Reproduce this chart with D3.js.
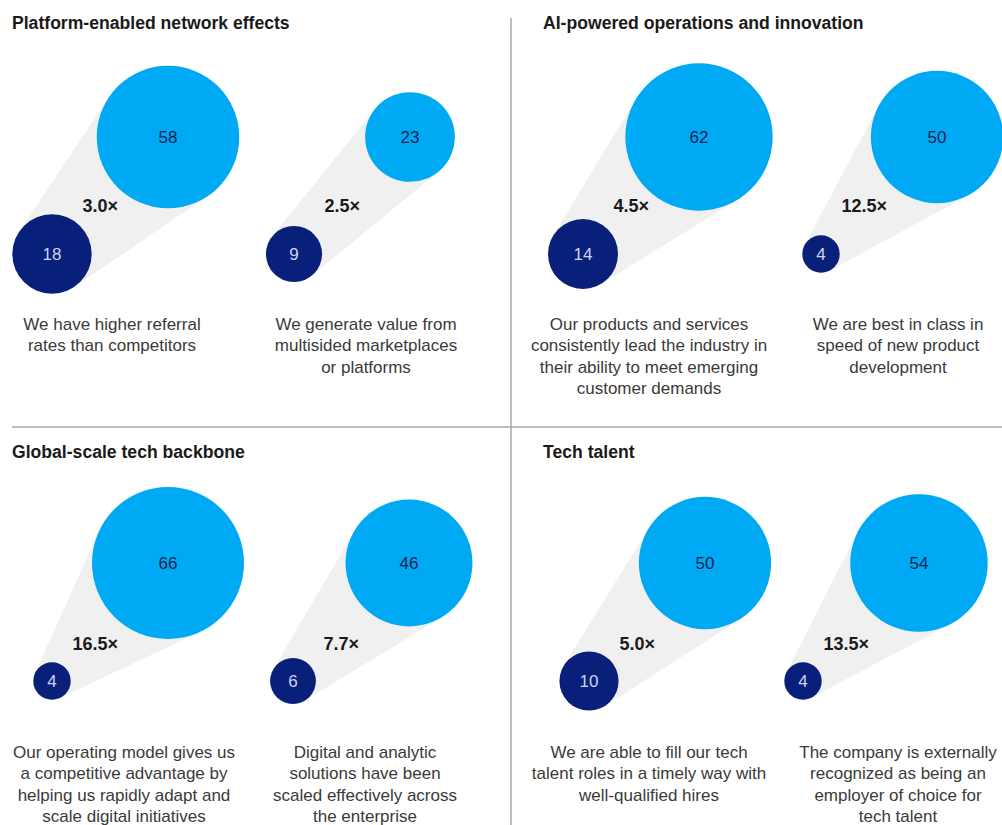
<!DOCTYPE html>
<html>
<head>
<meta charset="utf-8">
<script src="https://cdn.jsdelivr.net/npm/d3@7"></script>
<style>
  body { margin: 0; background: #fff; }
  svg { display: block; font-family: "Liberation Sans", Arial, sans-serif; }
</style>
</head>
<body>
<svg id="chart"></svg>
<script>
// panel titles, in reading order
const panelTitles = [
  'Platform-enabled network effects',
  'AI-powered operations and innovation',
  'Global-scale tech backbone',
  'Tech talent'
]

// two statements per panel
const statements = [
  [['We have higher referral', 'rates than competitors'],
   ['We generate value from', 'multisided marketplaces', 'or platforms']],
  [['Our products and services', 'consistently lead the industry in', 'their ability to meet emerging', 'customer demands'],
   ['We are best in class in', 'speed of new product', 'development']],
  [['Our operating model gives us', 'a competitive advantage by', 'helping us rapidly adapt and', 'scale digital initiatives'],
   ['Digital and analytic', 'solutions have been', 'scaled effectively across', 'the enterprise']],
  [['We are able to fill our tech', 'talent roles in a timely way with', 'well-qualified hires'],
   ['The company is externally', 'recognized as being an', 'employer of choice for', 'tech talent']]
]

// big (light blue) and small (dark blue) values
const leaderValues = [[58, 23], [62, 50], [66, 46], [50, 54]]
const othersValues = [[18, 9], [14, 4], [4, 6], [10, 4]]
const multiplierLabels = [['3.0×', '2.5×'], ['4.5×', '12.5×'], ['16.5×', '7.7×'], ['5.0×', '13.5×']]

const width = 1002
const height = 825

// layout of each panel
const panels = [
  { titleX: 12,  titleY: 29,  circleX: [52, 294],  textX: [112, 366], row: 0 },
  { titleX: 543, titleY: 29,  circleX: [583, 821], textX: [649, 898], row: 0 },
  { titleX: 12,  titleY: 458, circleX: [52, 293],  textX: [124, 365], row: 1 },
  { titleX: 543, titleY: 458, circleX: [589, 803], textX: [649, 898], row: 1 }
]
const rows = [
  { bigY: 137, smallY: 254, labelY: 212, textY: 330 },
  { bigY: 563, smallY: 681, labelY: 650, textY: 758 }
]
const bigDx = 116
const lineH = 21.3

const blueLight = '#00a9f4'
const blueDark = '#08207a'

const r = d3.scaleSqrt().domain([0, 66]).range([0, 76])

const svg = d3.select('#chart')
  .attr('width', width)
  .attr('height', height)

// dividers
svg.append('line')
  .attr('x1', 511).attr('x2', 511)
  .attr('y1', 18).attr('y2', height)
  .attr('stroke', '#a8a8a8').attr('stroke-width', 1.5)
svg.append('line')
  .attr('x1', 12).attr('x2', width)
  .attr('y1', 427).attr('y2', 427)
  .attr('stroke', '#a8a8a8').attr('stroke-width', 1.5)

// outer tangent hull of two circles
function hull(x1, y1, r1, x2, y2, r2) {
  let dx = x2 - x1, dy = y2 - y1
  let d = Math.sqrt(dx * dx + dy * dy)
  let th = Math.atan2(dy, dx)
  let a = Math.acos((r1 - r2) / d)
  let pts = [
    [x1 + r1 * Math.cos(th + a), y1 + r1 * Math.sin(th + a)],
    [x2 + r2 * Math.cos(th + a), y2 + r2 * Math.sin(th + a)],
    [x2 + r2 * Math.cos(th - a), y2 + r2 * Math.sin(th - a)],
    [x1 + r1 * Math.cos(th - a), y1 + r1 * Math.sin(th - a)]
  ]
  return d3.line()(pts) + 'Z'
}

panels.forEach((p, pi) => {
  let row = rows[p.row]
  let g = svg.append('g')

  g.append('text')
    .attr('x', p.titleX)
    .attr('y', p.titleY)
    .attr('font-size', 17.6)
    .attr('font-weight', 'bold')
    .attr('fill', '#1a1a1a')
    .text(panelTitles[pi])

  let xs = d3.scalePoint().domain([0, 1]).range(p.circleX)
  let xt = d3.scalePoint().domain([0, 1]).range(p.textX)

  ;[0, 1].forEach(ci => {
    let sx = xs(ci), sy = row.smallY
    let bx = sx + bigDx, by = row.bigY
    let rs = r(othersValues[pi][ci])
    let rb = r(leaderValues[pi][ci])

    g.append('path')
      .attr('d', hull(sx, sy, rs, bx, by, rb))
      .attr('fill', '#f0f0f0')

    g.append('circle')
      .attr('cx', bx).attr('cy', by).attr('r', rb)
      .attr('fill', blueLight)
    g.append('text')
      .attr('x', bx).attr('y', by + 6)
      .attr('text-anchor', 'middle')
      .attr('font-size', 17)
      .attr('fill', '#0b2350')
      .text(leaderValues[pi][ci])

    g.append('circle')
      .attr('cx', sx).attr('cy', sy).attr('r', rs)
      .attr('fill', blueDark)
    g.append('text')
      .attr('x', sx).attr('y', sy + 6)
      .attr('text-anchor', 'middle')
      .attr('font-size', 17)
      .attr('fill', '#cdd4f2')
      .text(othersValues[pi][ci])

    g.append('text')
      .attr('x', sx + 66).attr('y', row.labelY)
      .attr('text-anchor', 'end')
      .attr('font-size', 18)
      .attr('font-weight', 'bold')
      .attr('fill', '#1a1a1a')
      .text(multiplierLabels[pi][ci])

    let t = g.append('text')
      .attr('text-anchor', 'middle')
      .attr('font-size', 17)
      .attr('fill', '#3a3a3a')
    statements[pi][ci].forEach((line, li) => {
      t.append('tspan')
        .attr('x', xt(ci))
        .attr('y', row.textY + li * lineH)
        .text(line)
    })
  })
})
</script>
</body>
</html>
